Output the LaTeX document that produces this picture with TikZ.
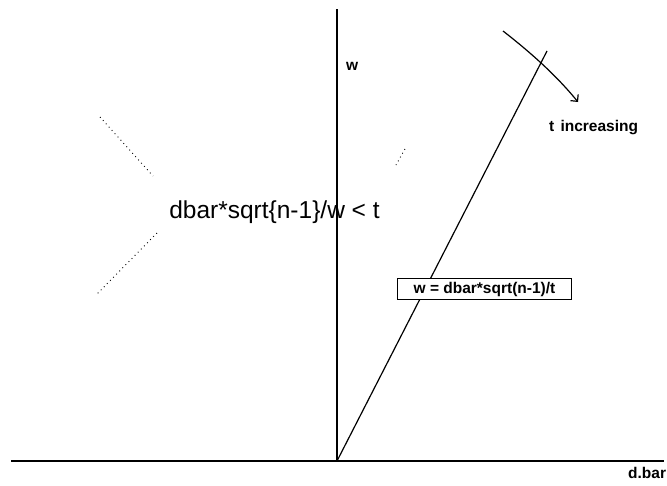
\documentclass[tikz,border=0pt]{standalone}
\usepackage{fontspec}
\setmainfont{Liberation Sans}
\usetikzlibrary{arrows.meta, positioning}

\begin{document}
\begin{tikzpicture}[
    x=1pt, y=-1pt,
    axis/.style={line width=1.8pt},
    curve/.style={line width=1.2pt},
    ray/.style={line width=0.9pt, dash pattern=on 0.9pt off 3.5pt},
    lbl/.style={font=\bfseries\fontsize{15.5}{18}\selectfont, inner sep=0pt},
    big/.style={font=\fontsize{24.5}{28}\selectfont, inner sep=0pt},
    eqbox/.style={draw, line width=1.3pt, fill=white, font=\bfseries\fontsize{15.5}{17}\selectfont,
      inner xsep=16pt, inner ysep=2pt, minimum height=21pt},
  ]
    \useasboundingbox (0,0) rectangle (667,485);

    % axes
    \coordinate (O) at (337,461);
    \coordinate (ytop) at (337,9);
    \coordinate (xleft) at (11,461);
    \coordinate (xright) at (664,461);
    \draw[axis] (ytop) -- (O);
    \draw[axis] (xleft) -- (xright);
    \node[lbl, anchor=west] (wlab) at (346,66) {w};
    \node[lbl, anchor=north west] (dlab) at (628,467) {d.bar};

    % boundary line w = dbar*sqrt(n-1)/t
    \coordinate (ltop) at (547,51);
    \draw[curve] (O) -- (ltop);
    \node[eqbox, anchor=north west] (eq) at (397,278) {w = dbar*sqrt(n-1)/t};

    % t increasing
    \coordinate (as) at (503,31);
    \coordinate (ae) at (578,102);
    \draw[curve, -{Straight Barb[angle=90:7pt, line width=1.2pt]}]
      (as) .. controls (530,52) and (556,75) .. (ae);
    \node[lbl, anchor=west] (tinc) at (549,128) {t\hspace{0.4em}increasing};

    % region label
    \node[big] (reg) at (274.5,212) {dbar*sqrt\{n-1\}/w < t};
    \coordinate (r1a) at (100,117);
    \coordinate (r1b) at (153,176);
    \coordinate (r2a) at (157,233);
    \coordinate (r2b) at (97,294);
    \coordinate (r3a) at (405,149);
    \coordinate (r3b) at (396,165);
    \draw[ray] (r1a) -- (r1b);
    \draw[ray] (r2a) -- (r2b);
    \draw[ray] (r3a) -- (r3b);
\end{tikzpicture}
\end{document}
